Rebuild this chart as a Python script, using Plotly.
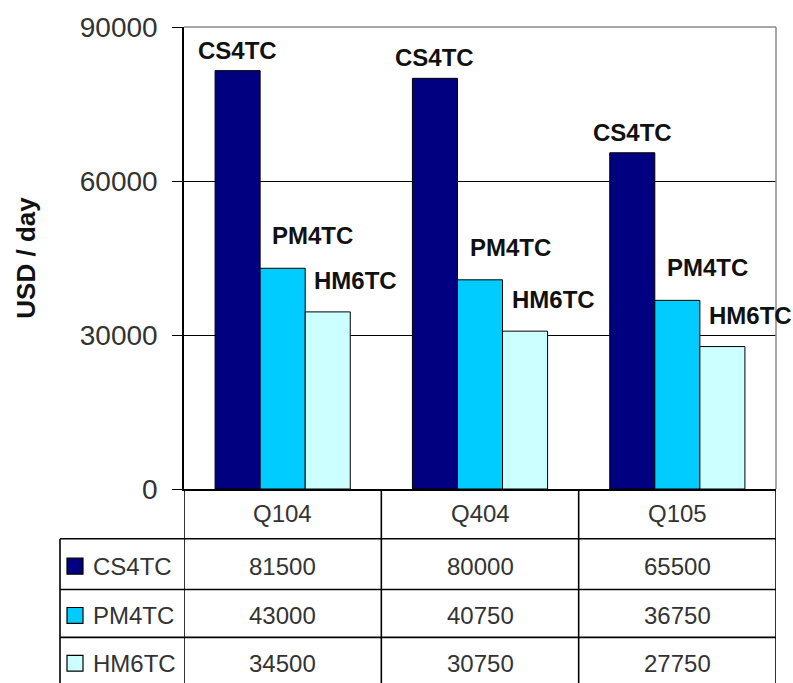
import plotly.graph_objects as go

# Quarterly average time-charter earnings by vessel index
quarters = ["Q104", "Q404", "Q105"]
series_names = ["CS4TC", "PM4TC", "HM6TC"]
cs4tc = [81500, 80000, 65500]
pm4tc = [43000, 40750, 36750]
hm6tc = [34500, 30750, 27750]
y_ticks = [0, 30000, 60000, 90000]
y_title = "USD / day"

colors = ["#000080", "#00CCFF", "#CCFFFF"]
values = [cs4tc, pm4tc, hm6tc]

W, H = 793, 683
M_L, M_R, M_T, M_B = 184, 17, 25, 194
PLOT_W = W - M_L - M_R
PLOT_H = H - M_T - M_B

fig = go.Figure()
for name, vals, col in zip(series_names, values, colors):
    fig.add_trace(go.Bar(
        x=quarters, y=vals, name=name,
        marker=dict(color=col, line=dict(color="black", width=1)),
        showlegend=False,
    ))

# series-name labels over the bars
bar_px = PLOT_W / len(quarters) * (1 - 0.315) / len(series_names)
label_dx = [0, 30, 28]
label_dy = [5, 17, 16]
annotations = []
for i, (name, vals) in enumerate(zip(series_names, values)):
    for q, v in zip(quarters, vals):
        annotations.append(dict(
            x=q, y=v, xref="x", yref="y", text=f"<b>{name}</b>",
            showarrow=False, xanchor="center", yanchor="bottom",
            xshift=(i - 1) * bar_px + label_dx[i], yshift=label_dy[i],
            font=dict(family="Liberation Sans, Arial", size=24, color="#111111"),
        ))


def py(px_from_axis):
    """paper y for a distance (px) below the x axis"""
    return -px_from_axis / PLOT_H


def px_x(px_from_axis):
    """paper x for a distance (px) from the y axis"""
    return px_from_axis / PLOT_W


# data table under the plot
row_edges = [0, 50, 101, 149, 197]  # header row, then one row per series
legend_left = px_x(-124)
shapes = []
line_style = dict(color="black", width=1.6)
for k, edge in enumerate(row_edges[1:]):
    shapes.append(dict(type="line", xref="paper", yref="paper",
                       x0=legend_left, x1=1, y0=py(edge), y1=py(edge), line=line_style))
shapes.append(dict(type="line", xref="paper", yref="paper",
                   x0=legend_left, x1=legend_left, y0=py(row_edges[1]), y1=py(row_edges[-1]),
                   line=line_style))
for b in [-0.5, 0.5, 1.5, 2.5]:
    shapes.append(dict(type="line", xref="x", yref="paper",
                       x0=b, x1=b, y0=0, y1=py(row_edges[-1]), line=line_style))

cell_font = dict(family="Liberation Sans, Arial", size=24, color="#333333")
for q in quarters:
    annotations.append(dict(x=q, y=py((row_edges[0] + row_edges[1]) / 2), xref="x", yref="paper",
                            text=q, showarrow=False, xanchor="center", yanchor="middle",
                            font=cell_font))
for r, (name, vals, col) in enumerate(zip(series_names, values, colors)):
    yc = (row_edges[r + 1] + row_edges[r + 2]) / 2 + 2
    for q, v in zip(quarters, vals):
        annotations.append(dict(x=q, y=py(yc), xref="x", yref="paper",
                                text=str(v), showarrow=False, xanchor="center",
                                yanchor="middle", font=cell_font))
    # legend key
    shapes.append(dict(type="rect", xref="paper", yref="paper",
                       x0=px_x(-117), x1=px_x(-101), y0=py(yc - 8), y1=py(yc + 8),
                       fillcolor=col, line=dict(color="black", width=1.2)))
    annotations.append(dict(x=px_x(-93), y=py(yc), xref="paper", yref="paper",
                            text=name, showarrow=False, xanchor="left", yanchor="middle",
                            font=cell_font))

# grey frame on the top and right of the plot area
shapes.append(dict(type="line", xref="paper", yref="paper", x0=0, x1=1, y0=1, y1=1,
                   line=dict(color="#8a8a8a", width=1.5), layer="above"))
shapes.append(dict(type="line", xref="paper", yref="paper", x0=1, x1=1, y0=0, y1=1,
                   line=dict(color="#8a8a8a", width=1.5), layer="above"))

fig.update_layout(
    width=W, height=H,
    margin=dict(l=M_L, r=M_R, t=M_T, b=M_B, pad=0),
    paper_bgcolor="white", plot_bgcolor="white",
    barmode="group", bargap=0.315, bargroupgap=0,
    annotations=annotations, shapes=shapes,
    xaxis=dict(showticklabels=False, ticks="", showline=True, linecolor="black",
               linewidth=1.5, showgrid=False, range=[-0.5, 2.5]),
    yaxis=dict(range=[0, 90000], tickvals=y_ticks, tickformat="d", ticks="outside",
               ticklen=10, tickcolor="black", showline=True, linecolor="black",
               linewidth=1.5, showgrid=True, gridcolor="black", gridwidth=1,
               zeroline=False, ticklabelstandoff=9,
               tickfont=dict(family="Liberation Sans, Arial", size=28, color="#333333"),
               title=dict(text=f"<b>{y_title}</b>", standoff=37,
                          font=dict(family="Liberation Sans, Arial", size=26, color="#111111"))),
)

fig.write_html("out.html")
